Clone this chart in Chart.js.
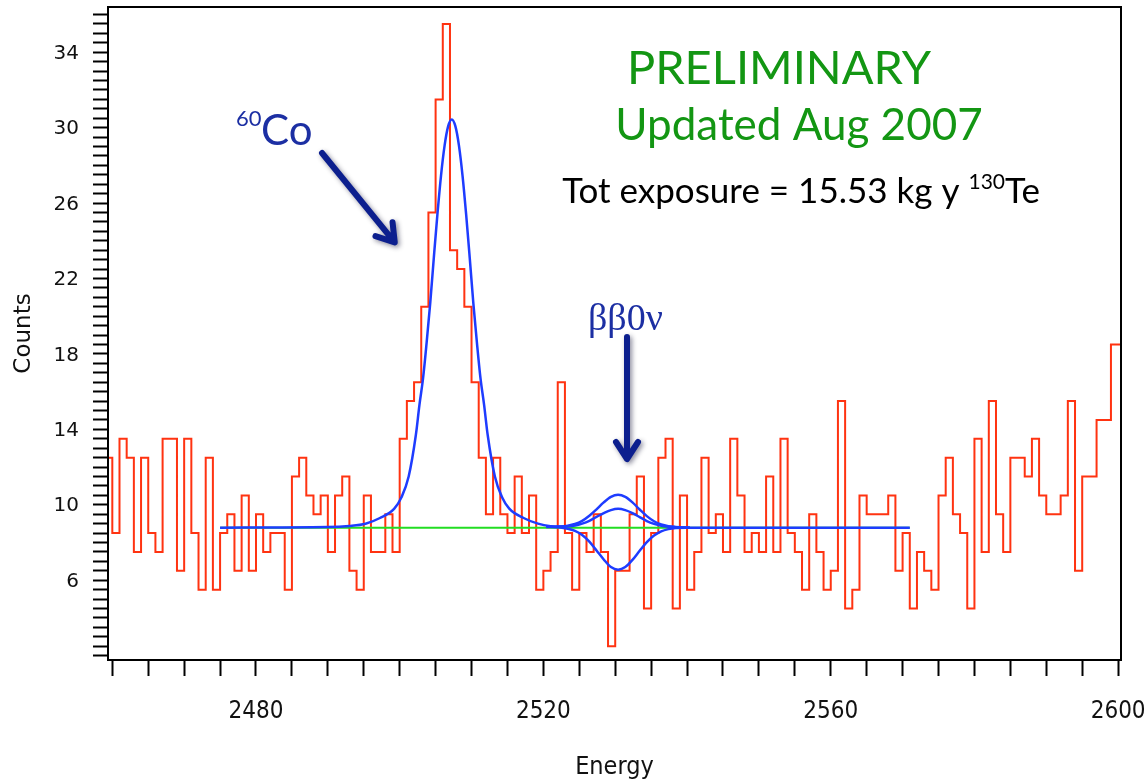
<!DOCTYPE html>
<html>
<head>
<meta charset="utf-8">
<script src="https://cdn.jsdelivr.net/npm/chart.js@4.4.1/dist/chart.umd.min.js"></script>
<style>
  html, body { margin: 0; padding: 0; background: #fff; }
  #wrap { width: 1144px; height: 784px; }
</style>
</head>
<body>
<div id="wrap"><canvas id="chart" width="1144" height="784"></canvas></div>
<script>
// 1 keV bins, first bin starts at 2459
const binStart = 2459;
const counts = [
  13,
  13, 9, 14, 13, 8, 13, 9, 8, 14, 14,
  7, 14, 9, 6, 13, 6, 9, 10, 7, 11,
  7, 10, 8, 9, 9, 6, 12, 13, 11, 10,
  11, 8, 11, 12, 7, 6, 11, 8, 8, 10,
  8, 14, 16, 17, 21, 26, 32, 36, 24, 23,
  21, 17, 13, 10, 13, 10, 9, 12, 9, 11,
  6, 7, 8, 17, 9, 6, 9, 8, 10, 8,
  3, 7, 7, 10, 12, 5, 9, 13, 14, 5,
  11, 6, 8, 13, 9, 10, 8, 14, 11, 8,
  9, 8, 12, 8, 14, 9, 8, 6, 10, 8,
  6, 7, 16, 5, 6, 11, 10, 10, 10, 11,
  7, 9, 5, 8, 7, 6, 11, 13, 10, 9,
  5, 14, 8, 16, 10, 8, 13, 13, 12, 14,
  11, 10, 10, 11, 16, 7, 12, 12, 15, 15,
  19
];

// fit: flat background + 60Co peak + central 0nu value
const fitE = [2475, 2490, 2493, 2495.25, 2497.25, 2499.25, 2500.25, 2501.25, 2502.25, 2502.75,
  2503.25, 2503.75, 2504.25, 2504.75, 2505.25, 2505.75, 2506.25, 2506.75, 2507.25, 2507.75,
  2508.25, 2508.75, 2509.25, 2509.75, 2510.25, 2510.75, 2511.25, 2511.75, 2512.25, 2513.25,
  2514.25, 2515.25, 2517.25, 2519.25, 2521, 2522.4, 2523.4, 2524.4, 2525.4, 2526.4,
  2527.4, 2528.4, 2529.4, 2530.4, 2531.4, 2532.4, 2533.4, 2534.4, 2535.4, 2536.4,
  2537.4, 2538.4, 2540.4, 2545, 2571];
const fitV = [9.29, 9.32, 9.38, 9.5, 9.8, 10.3, 10.9, 12.0, 14.2, 15.8,
  17.2, 19.1, 21.2, 23.6, 25.9, 27.95, 29.55, 30.58, 30.94, 30.58,
  29.55, 27.95, 25.9, 23.6, 21.2, 19.1, 17.2, 15.8, 14.2, 12.0,
  10.9, 10.3, 9.8, 9.5, 9.37, 9.35, 9.36, 9.4, 9.5, 9.65,
  9.86, 10.06, 10.22, 10.29, 10.22, 10.06, 9.85, 9.64, 9.49, 9.39,
  9.34, 9.31, 9.29, 9.29, 9.29];

// upper and lower 0nu curves
const bandE = [2520.4, 2522.4, 2523.4, 2524.4, 2525.4, 2526.4, 2527.4, 2528.4, 2529.4, 2530.4,
  2531.4, 2532.4, 2533.4, 2534.4, 2535.4, 2536.4, 2537.4, 2538.4, 2540.4];
const hiV = [9.33, 9.35, 9.39, 9.48, 9.65, 9.92, 10.26, 10.63, 10.92, 11.03,
  10.92, 10.63, 10.25, 9.9, 9.63, 9.46, 9.37, 9.33, 9.29];
const loV = [9.32, 9.3, 9.23, 9.12, 8.9, 8.55, 8.08, 7.6, 7.2, 7.06,
  7.2, 7.58, 8.06, 8.52, 8.87, 9.09, 9.21, 9.27, 9.29];

const bkgE = [2475, 2571];
const bkgV = [9.29, 9.29];

const yLabelTicks = [6, 10, 14, 18, 22, 26, 30, 34];
const xLabelTicks = [2480, 2520, 2560, 2600];

const pts = (xs, ys) => xs.map((x, i) => ({ x: x, y: ys[i] }));

const histPts = counts.map((c, i) => ({ x: binStart + i, y: c }));
histPts.push({ x: binStart + counts.length, y: counts[counts.length - 1] });

function arrow(ctx, x1, y1, x2, y2) {
  const ang = Math.atan2(y2 - y1, x2 - x1);
  const len = Math.hypot(x2 - x1, y2 - y1);
  ctx.save();
  ctx.translate(x2, y2);
  ctx.rotate(ang);
  ctx.shadowColor = 'rgba(0,0,40,0.45)';
  ctx.shadowBlur = 5;
  ctx.shadowOffsetX = 2;
  ctx.shadowOffsetY = 2;
  ctx.strokeStyle = '#0c1f8e';
  ctx.lineCap = 'round';
  ctx.lineJoin = 'round';
  ctx.lineWidth = 6;
  ctx.beginPath();
  ctx.moveTo(-len, 0);
  ctx.lineTo(-3, 0);
  ctx.moveTo(-19, -11);
  ctx.lineTo(-2, 0);
  ctx.lineTo(-19, 11);
  ctx.stroke();
  ctx.restore();
}

const notes = {
  id: 'notes',
  afterDraw(chart) {
    const { ctx, chartArea: a } = chart;
    ctx.save();
    ctx.strokeStyle = '#000';
    ctx.lineWidth = 2;
    ctx.strokeRect(a.left, a.top, a.right - a.left, a.bottom - a.top);

    ctx.textBaseline = 'alphabetic';
    ctx.textAlign = 'center';
    ctx.fillStyle = '#139613';
    ctx.font = '47px Lato, "Open Sans", sans-serif';
    ctx.fillText('PRELIMINARY', 779, 84);
    ctx.font = '44px Lato, "Open Sans", sans-serif';
    ctx.fillText('Updated Aug 2007', 799, 140);

    // Tot exposure line with superscript
    ctx.fillStyle = '#000';
    ctx.textAlign = 'left';
    const big = '35px Lato, "Open Sans", sans-serif';
    const sup = '21px Lato, "Open Sans", sans-serif';
    const t1 = 'Tot exposure = 15.53 kg y ';
    ctx.font = big;
    const w1 = ctx.measureText(t1).width;
    const w3 = ctx.measureText('Te').width;
    ctx.font = sup;
    const w2 = ctx.measureText('130').width;
    let x0 = 801 - (w1 + w2 + w3) / 2;
    ctx.font = big;
    ctx.fillText(t1, x0, 203);
    ctx.font = sup;
    ctx.fillText('130', x0 + w1, 189);
    ctx.font = big;
    ctx.fillText('Te', x0 + w1 + w2, 203);

    // 60Co label
    ctx.fillStyle = '#1c2fa3';
    ctx.font = '22px Lato, "Open Sans", sans-serif';
    ctx.fillText('60', 236, 126);
    ctx.font = '42px Lato, "Open Sans", sans-serif';
    ctx.fillText('Co', 261, 145);

    // 0nu label
    ctx.font = '38px "Liberation Serif", "DejaVu Serif", serif';
    ctx.fillText('\u03B2\u03B20\u03BD', 588, 330);

    arrow(ctx, 322, 153, 396, 244);
    arrow(ctx, 627, 337, 627, 461);
    ctx.restore();
  }
};

new Chart(document.getElementById('chart'), {
  type: 'line',
  data: {
    datasets: [
      {
        data: histPts,
        stepped: 'after',
        borderColor: '#ff3311',
        borderWidth: 2,
        pointRadius: 0,
        fill: false,
        order: 3
      },
      {
        data: pts(bkgE, bkgV),
        borderColor: '#22dd22',
        borderWidth: 2,
        pointRadius: 0,
        fill: false,
        order: 2
      },
      {
        data: pts(fitE, fitV),
        borderColor: '#1e3cff',
        borderWidth: 2.5,
        pointRadius: 0,
        cubicInterpolationMode: 'monotone',
        fill: false,
        order: 1
      },
      {
        data: pts(bandE, hiV),
        borderColor: '#1e3cff',
        borderWidth: 2.5,
        pointRadius: 0,
        cubicInterpolationMode: 'monotone',
        fill: false,
        order: 1
      },
      {
        data: pts(bandE, loV),
        borderColor: '#1e3cff',
        borderWidth: 2.5,
        pointRadius: 0,
        cubicInterpolationMode: 'monotone',
        fill: false,
        order: 1
      }
    ]
  },
  options: {
    responsive: false,
    animation: false,
    devicePixelRatio: 1,
    events: [],
    layout: { padding: { top: 7, right: 23, left: 0, bottom: 0 } },
    plugins: { legend: { display: false }, tooltip: { enabled: false } },
    scales: {
      x: {
        type: 'linear',
        min: 2459.4,
        max: 2600.4,
        afterFit: s => { s.height = 124; s.paddingLeft = 0; s.paddingRight = 0; },
        grid: { drawOnChartArea: false, tickLength: 16, tickWidth: 2, tickColor: '#000' },
        border: { display: true, color: '#000', width: 2 },
        ticks: {
          stepSize: 5,
          includeBounds: false,
          autoSkip: false,
          maxRotation: 0,
          padding: 21,
          color: '#111',
          font: { family: '"DejaVu Sans Condensed", "Liberation Sans Narrow", "DejaVu Sans"', size: 24 },
          callback: v => xLabelTicks.includes(v) ? String(v) : ''
        },
        title: {
          display: true,
          text: 'Energy',
          color: '#111',
          padding: { top: 0, bottom: 2 },
          font: { family: '"DejaVu Sans Condensed", "DejaVu Sans"', size: 25 }
        }
      },
      y: {
        min: 2.27,
        max: 36.9,
        afterFit: s => { s.width = 108; s.paddingTop = 0; s.paddingBottom = 0; },
        grid: { drawOnChartArea: false, tickLength: 15, tickWidth: 2, tickColor: '#000' },
        border: { display: true, color: '#000', width: 2 },
        ticks: {
          stepSize: 0.5,
          includeBounds: false,
          autoSkip: false,
          padding: 14,
          labelOffset: -8,
          color: '#111',
          font: { family: '"DejaVu Sans"', size: 20 },
          callback: v => yLabelTicks.includes(v) ? String(v) : ''
        },
        title: {
          display: true,
          text: 'Counts',
          color: '#111',
          padding: { top: 10, bottom: 0 },
          font: { family: '"DejaVu Sans"', size: 23 }
        }
      }
    }
  },
  plugins: [notes]
});
</script>
</body>
</html>
